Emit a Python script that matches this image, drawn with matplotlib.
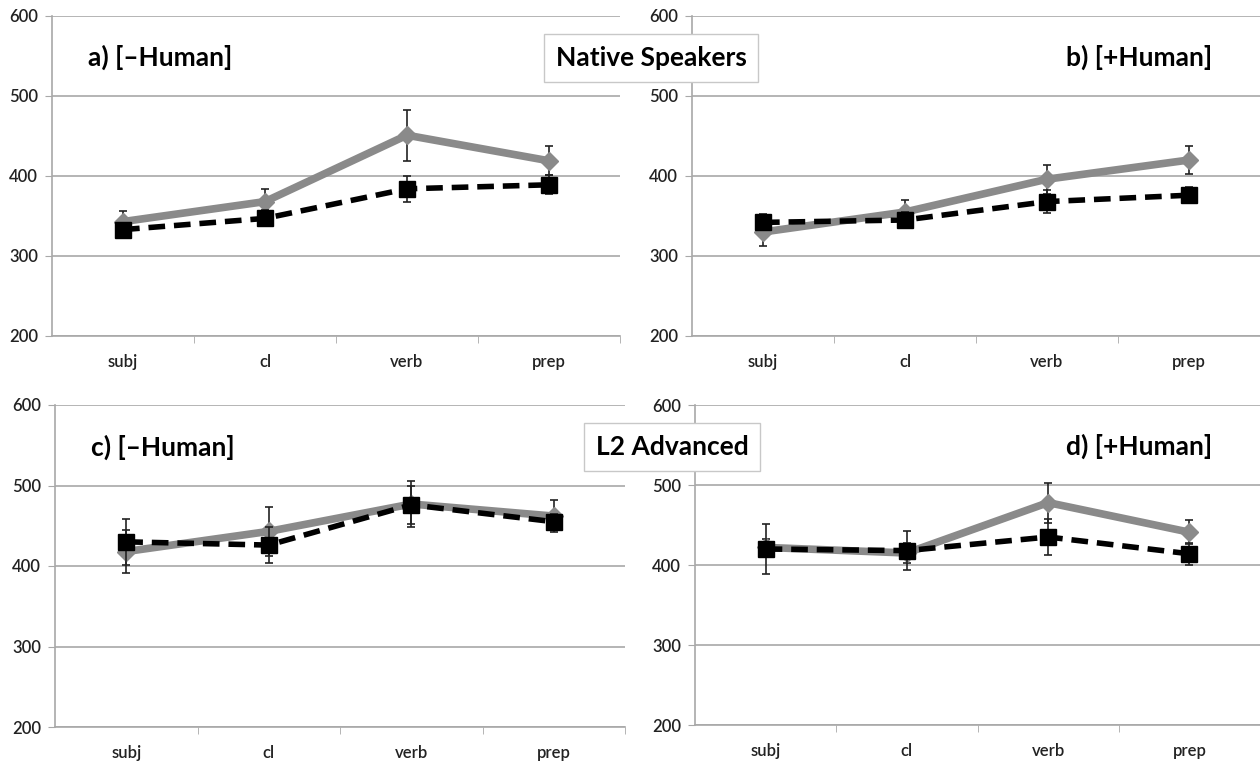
import matplotlib
matplotlib.use("Agg")
import matplotlib.pyplot as plt
import numpy as np

plt.rcParams['font.family'] = ['Lato', 'DejaVu Sans']

categories = ["subj", "cl", "verb", "prep"]

# a) native, [-Human]
a_gray = [343, 368, 451, 419]
a_gray_err = [13, 16, 32, 18]
a_black = [333, 347, 384, 389]
a_black_err = [8, 10, 16, 12]

# b) native, [+Human]
b_gray = [330, 355, 396, 420]
b_gray_err = [17, 15, 18, 18]
b_black = [342, 345, 368, 376]
b_black_err = [10, 10, 14, 10]

# c) L2 advanced, [-Human]
c_gray = [418, 443, 477, 462]
c_gray_err = [27, 30, 28, 20]
c_black = [430, 426, 476, 455]
c_black_err = [29, 22, 24, 10]

# d) L2 advanced, [+Human]
d_gray = [422, 415, 478, 441]
d_gray_err = [10, 12, 25, 15]
d_black = [420, 418, 435, 414]
d_black_err = [31, 24, 23, 14]

panels = [
    ("a) [\u2013Human]", a_gray, a_gray_err, a_black, a_black_err, "left"),
    ("b) [+Human]", b_gray, b_gray_err, b_black, b_black_err, "right"),
    ("c) [\u2013Human]", c_gray, c_gray_err, c_black, c_black_err, "left"),
    ("d) [+Human]", d_gray, d_gray_err, d_black, d_black_err, "right"),
]

# [left, bottom, width, height] in figure fractions
positions = [
    [52 / 1260, 1 - 336 / 761, 568 / 1260, 320 / 761],
    [692 / 1260, 1 - 336 / 761, 568 / 1260, 320 / 761],
    [55 / 1260, 1 - 727 / 761, 570 / 1260, 322 / 761],
    [695 / 1260, 1 - 725 / 761, 565 / 1260, 320 / 761],
]

GRID = "#a8a8a8"
GRAY = "#8a8a8a"

fig = plt.figure(figsize=(12.6, 7.61), dpi=100)

for pos, (title, g, ge, b, be, side) in zip(positions, panels):
    ax = fig.add_axes(pos)
    x = np.arange(len(categories))
    ax.errorbar(x, g, yerr=ge, color=GRAY, lw=5.5, marker="D", ms=9,
                ecolor="#222222", elinewidth=1.2, capsize=3, capthick=1.2, zorder=3)
    ax.errorbar(x, b, yerr=be, color="black", lw=4, ls=(0, (3, 1.6)), marker="s", ms=12,
                ecolor="#222222", elinewidth=1.2, capsize=3, capthick=1.2, zorder=4)
    ax.set_xlim(-0.5, 3.5)
    ax.set_ylim(200, 600)
    ax.set_yticks([200, 300, 400, 500, 600])
    ax.set_xticks(x)
    ax.set_xticklabels(categories)
    ax.set_xticks([0.5, 1.5, 2.5, 3.5], minor=True)
    ax.yaxis.grid(True, color=GRID, lw=1.2)
    ax.set_axisbelow(True)
    for s in ["top", "right"]:
        ax.spines[s].set_visible(False)
    for s in ["left", "bottom"]:
        ax.spines[s].set_color(GRID)
        ax.spines[s].set_linewidth(1.2)
    ax.tick_params(axis="x", which="major", length=0, pad=13, labelsize=12)
    ax.tick_params(axis="x", which="minor", length=5, color=GRID)
    ax.tick_params(axis="y", length=5, color=GRID, labelsize=12, pad=5)
    for lab in ax.get_xticklabels() + ax.get_yticklabels():
        lab.set_fontweight("semibold")
        lab.set_color("#222222")
    if side == "left":
        ax.text(0.063, 0.87, title, transform=ax.transAxes, fontsize=19,
                fontweight="bold", ha="left", va="center")
    else:
        ax.text(0.915, 0.87, title, transform=ax.transAxes, fontsize=19,
                fontweight="bold", ha="right", va="center")

box = dict(boxstyle="square,pad=0.45", fc="white", ec="#c8c8c8", lw=1)
fig.text(651 / 1260, 1 - 58 / 761, "Native Speakers", fontsize=19, fontweight="bold",
         ha="center", va="center", bbox=box)
fig.text(672 / 1260, 1 - 447 / 761, "L2 Advanced", fontsize=19, fontweight="bold",
         ha="center", va="center", bbox=box)

fig.savefig("out.png", dpi=100)
